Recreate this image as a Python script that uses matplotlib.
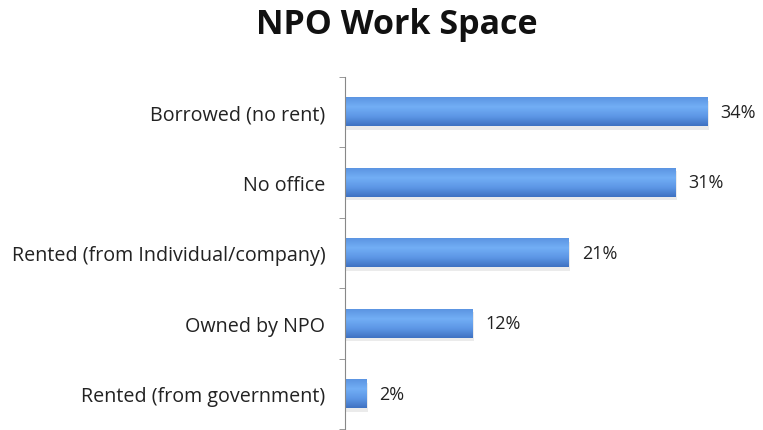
import numpy as np
import matplotlib.pyplot as plt
from matplotlib.colors import LinearSegmentedColormap

categories = ['Borrowed (no rent)', 'No office', 'Rented (from Individual/company)',
              'Owned by NPO', 'Rented (from government)']
shares = [34, 31, 21, 12, 2]
value_labels = ['34%', '31%', '21%', '12%', '2%']

plt.rcParams['font.family'] = ['Open Sans', 'DejaVu Sans']

fig = plt.figure(figsize=(7.63, 4.31), dpi=100)
ax = fig.add_axes([0.452, 0.002, 0.548, 0.818])

# vertical shading for the bars: light band above the middle, darker bottom
shade = LinearSegmentedColormap.from_list(
    'barshade', ['#5c95e2', '#72aef5', '#5d97e6', '#3f72c2'])
grad = np.linspace(0, 1, 64).reshape(-1, 1)

y = np.arange(len(categories))
h = 0.41
bars = ax.barh(y, shares, height=h, color='none', edgecolor='none')
for bar, v, lab in zip(bars, shares, value_labels):
    x0, y0 = bar.get_x(), bar.get_y()
    w, bh = bar.get_width(), bar.get_height()
    # soft shadow under each bar
    ax.add_patch(plt.Rectangle((x0, y0 + 0.05), w + 0.15, bh, color='#000000',
                               alpha=0.08, lw=0, zorder=1))
    im = ax.imshow(grad, cmap=shade, aspect='auto', zorder=2,
                   extent=(x0, x0 + w, y0 + bh, y0), origin='upper')
    im.set_clip_path(bar)
    ax.text(v + 1.2, bar.get_y() + bh / 2, lab, va='center', ha='left',
            fontsize=13, color='#222222')

ax.set_xlim(0, 39.2)
ax.set_ylim(len(categories) - 0.5, -0.5)
ax.set_yticks(y)
ax.set_yticklabels(categories, fontsize=14.2, color='#222222')
ax.set_yticks(np.arange(-0.5, len(categories), 1), minor=True)
ax.tick_params(axis='y', which='major', length=0, pad=14)
ax.tick_params(axis='y', which='minor', length=4, direction='out', color='#888888')
ax.set_xticks([])
for s in ['top', 'right', 'bottom']:
    ax.spines[s].set_visible(False)
ax.spines['left'].set_color('#888888')

fig.text(0.52, 0.943, 'NPO Work Space', ha='center', va='center',
         fontsize=24.5, fontweight='bold', color='#111111')

fig.savefig('out.png', dpi=100, facecolor='white')
